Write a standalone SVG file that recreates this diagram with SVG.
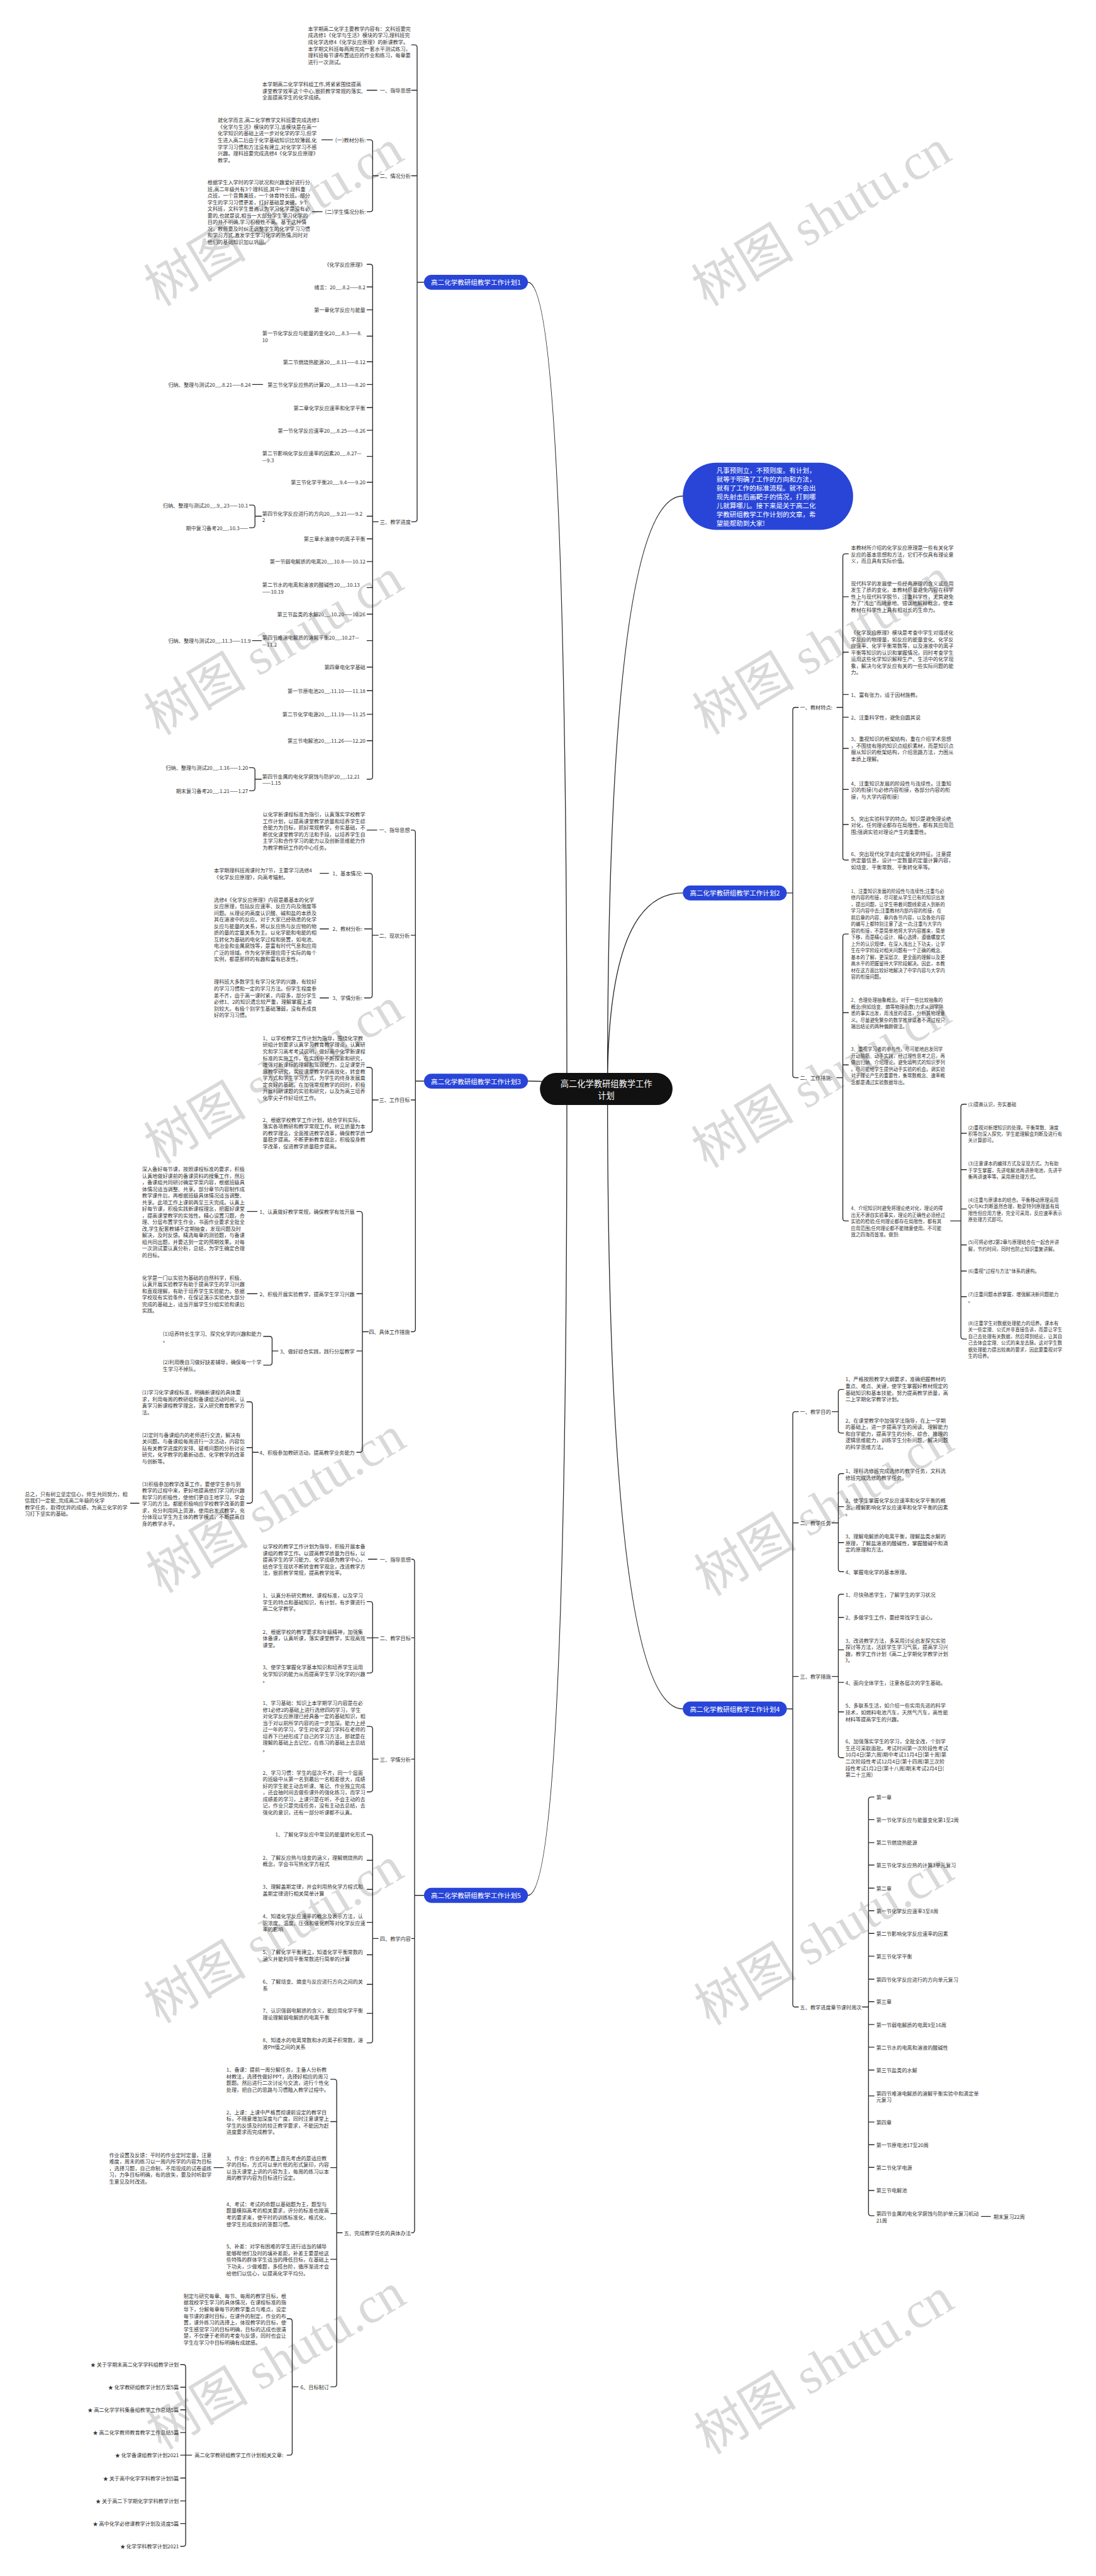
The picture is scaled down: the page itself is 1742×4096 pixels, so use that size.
<svg xmlns="http://www.w3.org/2000/svg" width="1742" height="4096" viewBox="0 0 1742 4096">
<style>
.t{font-family:"Noto Sans CJK SC","Noto Sans",sans-serif;font-size:12px;fill:#333;dominant-baseline:central}
.s{font-size:11px}
.e{text-anchor:end}
.n{font-family:"Noto Sans CJK SC","Noto Sans",sans-serif;font-size:15.5px;fill:#fff;text-anchor:middle;dominant-baseline:central}
.w{font-family:"Noto Sans CJK SC","Noto Sans",sans-serif;font-size:15.5px;fill:#fff;dominant-baseline:central}
.c{font-family:"Noto Sans CJK SC","Noto Sans",sans-serif;font-size:19.5px;fill:#fff;text-anchor:middle;dominant-baseline:central}
.L{fill:none;stroke:#2b2b2b;stroke-width:2;stroke-linecap:round}
.wm{font-family:"Liberation Serif","Noto Sans CJK SC",serif;font-size:120px;fill:#d9d9d9;text-anchor:middle;dominant-baseline:central}
.bn{fill:#2845d8}
</style>
<rect width="1742" height="4096" fill="#fff"/>
<g transform="scale(0.68)">
<g id="watermarks">
<text class="wm" transform="translate(640,510) rotate(-31)">树图 shutu.cn</text>
<text class="wm" transform="translate(640,1513) rotate(-31)">树图 shutu.cn</text>
<text class="wm" transform="translate(640,2516) rotate(-31)">树图 shutu.cn</text>
<text class="wm" transform="translate(645,3519) rotate(-31)">树图 shutu.cn</text>
<text class="wm" transform="translate(640,4525) rotate(-31)">树图 shutu.cn</text>
<text class="wm" transform="translate(645,5522) rotate(-31)">树图 shutu.cn</text>
<text class="wm" transform="translate(1920,510) rotate(-31)">树图 shutu.cn</text>
<text class="wm" transform="translate(1922,1512) rotate(-31)">树图 shutu.cn</text>
<text class="wm" transform="translate(1920,2525) rotate(-31)">树图 shutu.cn</text>
<text class="wm" transform="translate(1926,3526) rotate(-31)">树图 shutu.cn</text>
<text class="wm" transform="translate(1926,4530) rotate(-31)">树图 shutu.cn</text>
<text class="wm" transform="translate(1926,5533) rotate(-31)">树图 shutu.cn</text>
</g>
<g id="connectors">
<path class="L" d="M1420,2545 Q1420,1160 1596,1160 M1420,2545 Q1420,2088 1596,2088 M1420,2545 Q1420,3996 1596,3996 M1325,2545 Q1325,660 1234,660 M1325,2545 Q1325,2528 1234,2528 M1325,2545 Q1325,4432 1234,4432"/>
<path class="L" d="M962,105 H969 Q975,105 975,111 V1214 Q975,1220 969,1220 H962 M962,211 H975 M962,411 H975 M975,660 H991"/>
<path class="L" d="M858,211 H881"/>
<path class="L" d="M858,327 H865 Q871,327 871,333 V489 Q871,495 865,495 H858 M871,411 H884 M752,327 H777 M730,495 H753"/>
<path class="L" d="M858,618 H865 Q871,618 871,624 V1816 Q871,1822 865,1822 H858 M858,671 H871 M858,724.5 H871 M858,786 H871 M858,846 H871 M858,899 H871 M858,953 H871 M858,1006 H871 M858,1067 H871 M858,1127.6 H871 M858,1207 H871 M871,1220 H884 M858,1260 H871 M858,1313 H871 M858,1374 H871 M858,1436 H871 M858,1498 H871 M858,1560 H871 M858,1615 H871 M858,1670 H871 M858,1732 H871"/>
<path class="L" d="M590,899 H614 M583,1181 H590 Q596,1181 596,1187 V1228 Q596,1234 590,1234 H583 M596,1207 H611 M590,1498 H611 M583,1795 H590 Q596,1795 596,1801 V1843 Q596,1849 590,1849 H583 M596,1822 H611"/>
<path class="L" d="M961,1941 H965 Q971,1941 971,1947 V3108 Q971,3114 965,3114 H961 M961,2187 H971 M961,2572 H971 M971,2528 H991"/>
<path class="L" d="M858,1941 H881"/>
<path class="L" d="M852,2042 H864 Q870,2042 870,2048 V2327.5 Q870,2333.5 864,2333.5 H852 M852,2172 H870 M870,2187 H884 M748,2042 H768 M748,2172 H768 M748,2333.5 H768"/>
<path class="L" d="M857,2496 H864 Q870,2496 870,2502 V2642 Q870,2648 864,2648 H857 M870,2572 H884"/>
<path class="L" d="M834,2833 H841 Q847,2833 847,2839 V3390 Q847,3396 841,3396 H834 M834,3025 H847 M834,3159 H847 M847,3114 H861 M578,2833 H601 M578,3025 H601"/>
<path class="L" d="M616,3125 H630 Q636,3125 636,3131 V3186 Q636,3192 630,3192 H616 M636,3159 H650"/>
<path class="L" d="M577,3278 H584 Q590,3278 590,3284 V3509 Q590,3515 584,3515 H577 M577,3385 H590 M590,3396 H604 M305,3515 H325"/>
<path class="L" d="M962,3646 H963 Q969,3646 969,3652 V5215 Q969,5221 963,5221 H962 M962,3829.5 H969 M962,4113.5 H969 M962,4533 H969 M969,4432 H991"/>
<path class="L" d="M861,3646 H881"/>
<path class="L" d="M858,3745 H865 Q871,3745 871,3751 V3906 Q871,3912 865,3912 H858 M858,3830 H871 M871,3829.5 H884"/>
<path class="L" d="M858,4037 H865 Q871,4037 871,4043 V4184 Q871,4190 865,4190 H858 M871,4113.5 H884"/>
<path class="L" d="M858,4289.5 H865 Q871,4289.5 871,4295.5 V4771 Q871,4777 865,4777 H858 M858,4350 H871 M858,4418 H871 M858,4495 H871 M858,4571 H871 M858,4640 H871 M858,4708 H871 M871,4533 H884"/>
<path class="L" d="M773,4862 H781 Q787,4862 787,4868 V5575 Q787,5581 781,5581 H773 M773,4961 H787 M773,5068.5 H787 M773,5176 H787 M773,5283 H787 M787,5221 H800 M500,5068.5 H522"/>
<path class="L" d="M671,5422 H677 Q683,5422 683,5428 V5735 Q683,5741 677,5741 H671 M683,5581 H697"/>
<path class="L" d="M422,5529 H428 Q434,5529 434,5535 V5948 Q434,5954 428,5954 H422 M422,5582 H434 M422,5635 H434 M422,5688 H434 M422,5741 H448 M422,5794.5 H434 M422,5848 H434 M422,5901 H434"/>
<path class="L" d="M1866,1654 H1859 Q1853,1654 1853,1660 V2514 Q1853,2520 1859,2520 H1866 M1839,2088 H1853"/>
<path class="L" d="M1983,1295 H1976 Q1970,1295 1970,1301 V2005 Q1970,2011 1976,2011 H1983 M1970,1395.5 H1983 M1970,1525 H1983 M1970,1624 H1983 M1970,1677 H1983 M1970,1750 H1983 M1970,1846 H1983 M1970,1928 H1983 M1956,1654 H1970"/>
<path class="L" d="M1983,2184 H1976 Q1970,2184 1970,2190 V2849 Q1970,2855 1976,2855 H1983 M1970,2368 H1983 M1970,2490 H1983 M1956,2520 H1970"/>
<path class="L" d="M2259,2582 H2252 Q2246,2582 2246,2588 V3125 Q2246,3131 2252,3131 H2259 M2246,2650 H2259 M2246,2735 H2259 M2246,2827 H2259 M2246,2911 H2259 M2246,2972 H2259 M2246,3032 H2259 M2222,2855 H2246"/>
<path class="L" d="M1866,3301 H1859 Q1853,3301 1853,3307 V4687 Q1853,4693 1859,4693 H1866 M1853,3561 H1866 M1853,3920 H1866 M1839,3996 H1853"/>
<path class="L" d="M1972,3249 H1965.5 Q1959.5,3249 1959.5,3255 V3345 Q1959.5,3351 1965.5,3351 H1972 M1945,3301 H1959.5"/>
<path class="L" d="M1972,3446 H1965.5 Q1959.5,3446 1959.5,3452 V3669 Q1959.5,3675 1965.5,3675 H1972 M1959.5,3523 H1972 M1959.5,3607 H1972 M1945,3561 H1959.5"/>
<path class="L" d="M1972,3728 H1965.5 Q1959.5,3728 1959.5,3734 V4104 Q1959.5,4110 1965.5,4110 H1972 M1959.5,3782 H1972 M1959.5,3858 H1972 M1959.5,3934 H1972 M1959.5,4003 H1972 M1945,3920 H1959.5"/>
<path class="L" d="M2043,4202 H2036 Q2030,4202 2030,4208 V5175 Q2030,5181 2036,5181 H2043 M2030,4255 H2043 M2030,4308.6 H2043 M2030,4361 H2043 M2030,4415 H2043 M2030,4468 H2043 M2030,4521 H2043 M2030,4574 H2043 M2030,4628 H2043 M2030,4680.5 H2043 M2030,4734 H2043 M2030,4787 H2043 M2030,4840.5 H2043 M2030,4901 H2043 M2030,4962 H2043 M2030,5015 H2043 M2030,5068 H2043 M2030,5122 H2043 M2016,4693 H2030 M2294,5183 H2315"/>
</g>
<g id="center">
<rect x="1262" y="2509" width="310" height="75" rx="37.5" fill="#111"/>
<text class="c" x="1417" y="2533">高二化学教研组教学工作</text>
<text class="c" x="1417" y="2561">计划</text>
</g>
<g id="intro">
<rect x="1596" y="1082" width="398" height="157" rx="78" fill="#2845d8"/>
<text class="w" x="1674.5" y="1099"><tspan x="1674.5" dy="0">凡事预则立，不预则废。有计划，</tspan><tspan x="1674.5" dy="20.5">就等于明确了工作的方向和方法，</tspan><tspan x="1674.5" dy="20.5">就有了工作的标准流程。就不会出</tspan><tspan x="1674.5" dy="20.5">现先射击后画靶子的情况，打到哪</tspan><tspan x="1674.5" dy="20.5">儿就算哪儿。接下来是关于高二化</tspan><tspan x="1674.5" dy="20.5">学教研组教学工作计划的文章，希</tspan><tspan x="1674.5" dy="20.5">望能帮助到大家!</tspan></text>
</g>
<g id="plan1">
<rect class="bn" x="991" y="642.5" width="243" height="35" rx="17.5"/>
<text class="n" x="1112.5" y="660">高二化学教研组教学工作计划1</text>
<text class="t" x="720" y="66"><tspan x="720" dy="0">本学期高二化学主要教学内容有：文科班要完</tspan><tspan x="720" dy="15.5">成选修1《化学与生活》模块的学习,理科班完</tspan><tspan x="720" dy="15.5">成化学选修4《化学反应原理》的新课教学。</tspan><tspan x="720" dy="15.5">本学期文科班每两周完成一套水平测试练习，</tspan><tspan x="720" dy="15.5">理科班每节课布置适应的作业和练习，每章要</tspan><tspan x="720" dy="15.5">进行一次测试。</tspan></text>
<text class="t e" x="960" y="211">一、指导思想</text>
<text class="t" x="613" y="196"><tspan x="613" dy="0">本学期高二化学学科组工作,将紧紧围绕提高</tspan><tspan x="613" dy="15.5">课堂教学效率这个中心,狠抓教学常规的落实,</tspan><tspan x="613" dy="15.5">全面提高学生的化学成绩。</tspan></text>
<text class="t e" x="960" y="411">二、情况分析</text>
<text class="t e" x="855" y="327">(一)教材分析:</text>
<text class="t" x="509" y="280"><tspan x="509" dy="0">就化学而言,高二化学教学文科班要完成选修1</tspan><tspan x="509" dy="15.5">《化学与生活》模块的学习,该模块是在高一</tspan><tspan x="509" dy="15.5">化学知识的基础上进一步对化学的学习,但学</tspan><tspan x="509" dy="15.5">生进入高二后由于化学基础知识比较薄弱,化</tspan><tspan x="509" dy="15.5">学学习习惯和方法没有建立,对化学学习不感</tspan><tspan x="509" dy="15.5">兴趣。理科班要完成选修4《化学反应原理》</tspan><tspan x="509" dy="15.5">教学。</tspan></text>
<text class="t e" x="855" y="495">(二)学生情况分析:</text>
<text class="t" x="485" y="425"><tspan x="485" dy="0">根据学生入学时的学习状况和兴趣爱好进行分</tspan><tspan x="485" dy="15.5">班,高二年级共有3个理科班,其中一个理科重</tspan><tspan x="485" dy="15.5">点班，一个音舞美班，一个体育特长班。部分</tspan><tspan x="485" dy="15.5">学生的学习习惯更差，打好基础是关键。9个</tspan><tspan x="485" dy="15.5">文科班，文科学生普遍认为学习化学是没有必</tspan><tspan x="485" dy="15.5">要的,也就是说,相当一大部分学生学习化学的</tspan><tspan x="485" dy="15.5">目的并不明确,学习积极性不高。基于这种情</tspan><tspan x="485" dy="15.5">况，教师要及时纠正调整学生的化学学习习惯</tspan><tspan x="485" dy="15.5">和学习方式,激发学生学习化学的热情,同时对</tspan><tspan x="485" dy="15.5">他们的基础知识加以巩固。</tspan></text>
<text class="t e" x="960" y="1220">三、教学进度</text>
<text class="t e" x="854" y="618">《化学反应原理》</text>
<text class="t e" x="854" y="671">绪言：20__.8.2——8.2</text>
<text class="t e" x="854" y="724.5">第一章化学反应与能量</text>
<text class="t" x="613" y="778"><tspan x="613" dy="0">第一节化学反应与能量的变化20__.8.3——8.</tspan><tspan x="613" dy="15.5">10</tspan></text>
<text class="t e" x="854" y="846">第二节燃烧热能源20__.8.11——8.12</text>
<text class="t e" x="854" y="899">第三节化学反应热的计算20__.8.13——8.20</text>
<text class="t e" x="586" y="899">归纳、整理与测试20__.8.21——8.24</text>
<text class="t e" x="854" y="953">第二章化学反应速率和化学平衡</text>
<text class="t e" x="854" y="1006">第一节化学反应速率20__.8.25——8.26</text>
<text class="t" x="613" y="1059"><tspan x="613" dy="0">第二节影响化学反应速率的因素20__.8.27—</tspan><tspan x="613" dy="15.5">—9.3</tspan></text>
<text class="t e" x="854" y="1127.6">第三节化学平衡20__.9.4——9.20</text>
<text class="t" x="613" y="1199.5"><tspan x="613" dy="0">第四节化学反应进行的方向20__.9.21——9.2</tspan><tspan x="613" dy="15.5">2</tspan></text>
<text class="t e" x="580" y="1181">归纳、整理与测试20__.9_.23——10.1</text>
<text class="t e" x="580" y="1234">期中复习备考20__.10.3——</text>
<text class="t e" x="854" y="1260">第三章水溶液中的离子平衡</text>
<text class="t e" x="854" y="1313">第一节弱电解质的电离20__.10.8——10.12</text>
<text class="t" x="613" y="1366.3"><tspan x="613" dy="0">第二节水的电离和溶液的酸碱性20__.10.13</tspan><tspan x="613" dy="15.5">——10.19</tspan></text>
<text class="t e" x="854" y="1436">第三节盐类的水解20__.10.20——10.26</text>
<text class="t" x="613" y="1490.3"><tspan x="613" dy="0">第四节难溶电解质的溶解平衡20__.10.27—</tspan><tspan x="613" dy="15.5">—11.2</tspan></text>
<text class="t e" x="586" y="1498">归纳、整理与测试20__.11.3——11.9</text>
<text class="t e" x="854" y="1560">第四章电化学基础</text>
<text class="t e" x="854" y="1615">第一节原电池20__.11.10——11.18</text>
<text class="t e" x="854" y="1670">第二节化学电源20__.11.19——11.25</text>
<text class="t e" x="854" y="1732">第三节电解池20__.11.26——12.20</text>
<text class="t" x="613" y="1814.3"><tspan x="613" dy="0">第四节金属的电化学腐蚀与防护20__.12.21</tspan><tspan x="613" dy="15.5">——1.15</tspan></text>
<text class="t e" x="580" y="1795">归纳、整理与测试20__.1.16——1.20</text>
<text class="t e" x="580" y="1849">期末复习备考20__.1.21——1.27</text>
</g>
<g id="plan2">
<rect class="bn" x="1596" y="2070.5" width="243" height="35" rx="17.5"/>
<text class="n" x="1717.5" y="2088">高二化学教研组教学工作计划2</text>
<text class="t" x="1870" y="1654">一、教材特点:</text>
<text class="t" x="1989" y="1279.5"><tspan x="1989" dy="0">本教材所介绍的化学反应原理是一些有关化学</tspan><tspan x="1989" dy="15.5">反应的基本思想和方法，它们不仅具有理论意</tspan><tspan x="1989" dy="15.5">义，而且具有实际价值。</tspan></text>
<text class="t" x="1989" y="1363"><tspan x="1989" dy="0">现代科学的发展使一些经典原理的含义或应用</tspan><tspan x="1989" dy="15.5">发生了质的变化，本教材尽量避免内容在科学</tspan><tspan x="1989" dy="15.5">性上与现代科学脱节，注重科学性，尤其避免</tspan><tspan x="1989" dy="15.5">为了"浅出"而随意地、错误地解释概念，使本</tspan><tspan x="1989" dy="15.5">教材在科学性上具有相对长的生命力。</tspan></text>
<text class="t" x="1989" y="1478"><tspan x="1989" dy="0">《化学反应原理》模块是考查中学生对描述化</tspan><tspan x="1989" dy="15.5">学反应的物理量，如反应的能量变化、化学反</tspan><tspan x="1989" dy="15.5">应速率、化学平衡常数等，以及溶液中的离子</tspan><tspan x="1989" dy="15.5">平衡等知识的认识和掌握情况，同时考查学生</tspan><tspan x="1989" dy="15.5">运用这些化学知识解释生产、生活中的化学现</tspan><tspan x="1989" dy="15.5">象，解决与化学反应有关的一些实际问题的能</tspan><tspan x="1989" dy="15.5">力。</tspan></text>
<text class="t" x="1989" y="1624">1、富有张力，适于因材施教。</text>
<text class="t" x="1989" y="1677">2、注重科学性，避免自圆其说</text>
<text class="t" x="1989" y="1727"><tspan x="1989" dy="0">3、重视知识的框架结构，重在介绍学术思想</tspan><tspan x="1989" dy="15.5">，不围绕有限的知识点组织素材，而是知识点</tspan><tspan x="1989" dy="15.5">服从知识的框架结构，介绍思路方法，力图从</tspan><tspan x="1989" dy="15.5">本质上理解。</tspan></text>
<text class="t" x="1989" y="1830.5"><tspan x="1989" dy="0">4、注重知识发展的阶段性与连续性。注重知</tspan><tspan x="1989" dy="15.5">识的衔接(与必修内容衔接，各部分内容的衔</tspan><tspan x="1989" dy="15.5">接，与大学内容衔接)</tspan></text>
<text class="t" x="1989" y="1912.5"><tspan x="1989" dy="0">5、突出实验科学的特点。知识是避免理论绝</tspan><tspan x="1989" dy="15.5">对化，任何理论都存在局限性，都有其应用范</tspan><tspan x="1989" dy="15.5">围;强调实验对理论产生的重要性。</tspan></text>
<text class="t" x="1989" y="1995.5"><tspan x="1989" dy="0">6、突出现代化学走向定量化的特征。注意提</tspan><tspan x="1989" dy="15.5">供定量信息，设计一定数量的定量计算内容，</tspan><tspan x="1989" dy="15.5">如焓变、平衡常数、平衡转化率等。</tspan></text>
<text class="t" x="1870" y="2520">二、工作措施:</text>
<text class="t s" x="1989" y="2082.3"><tspan x="1989" dy="0">1、注重知识发展的阶段性与连续性;注重与必</tspan><tspan x="1989" dy="15.4">修内容的衔接，尽可能从学生已有的知识出发</tspan><tspan x="1989" dy="15.4">，提出问题，让学生带着问题线索进入到新的</tspan><tspan x="1989" dy="15.4">学习内容中去;注重教材内部内容的衔接，在</tspan><tspan x="1989" dy="15.4">前后章的内容、章内各节内容，以及各处内容</tspan><tspan x="1989" dy="15.4">的编写上都特别注意了这一点;注重与大学内</tspan><tspan x="1989" dy="15.4">容的衔接，不是简单地将大学内容搬来，简单</tspan><tspan x="1989" dy="15.4">下移，而是精心设计、精心选择，遵循螺旋式</tspan><tspan x="1989" dy="15.4">上升的认识规律，在深入浅出上下功夫，让学</tspan><tspan x="1989" dy="15.4">生在中学阶段对相关问题有一个正确的概念、</tspan><tspan x="1989" dy="15.4">基本的了解，更深层次、更全面的理解以及更</tspan><tspan x="1989" dy="15.4">高水平的把握留待大学阶段解决。因此，本教</tspan><tspan x="1989" dy="15.4">材在这方面比较好地解决了中学内容与大学内</tspan><tspan x="1989" dy="15.4">容的衔接问题。</tspan></text>
<text class="t s" x="1989" y="2337"><tspan x="1989" dy="0">2、合理处理抽象概念。对于一些比较抽象的</tspan><tspan x="1989" dy="15.4">概念(例如焓变、熵等物理函数)力求从同学熟</tspan><tspan x="1989" dy="15.4">悉的事实出发，用浅显的语言，分析其物理意</tspan><tspan x="1989" dy="15.4">义。尽量避免繁杂的数学推导或者不讲过程只</tspan><tspan x="1989" dy="15.4">端出结论的两种偏颇做法。</tspan></text>
<text class="t s" x="1989" y="2452"><tspan x="1989" dy="0">3、重视学习者的参与性。尽可能地启发同学</tspan><tspan x="1989" dy="15.4">开动脑筋、动手实践，经过理性思考之后，再</tspan><tspan x="1989" dy="15.4">做出归纳、介绍理论。避免填鸭式的知识罗列</tspan><tspan x="1989" dy="15.4">。尽可能给学生提供动手实验的机会。调实验</tspan><tspan x="1989" dy="15.4">对于理论产生的重要性，衡常数概念、速率概</tspan><tspan x="1989" dy="15.4">念都是通过实验数据导出。</tspan></text>
<text class="t s" x="1989" y="2824"><tspan x="1989" dy="0">4、介绍知识时避免将理论绝对化，理论的得</tspan><tspan x="1989" dy="15.4">出无不源自实验事实，理论的正确性必须经过</tspan><tspan x="1989" dy="15.4">实验的检验;任何理论都存在局限性，都有其</tspan><tspan x="1989" dy="15.4">应用范围;任何理论都不能随意使用，不可能</tspan><tspan x="1989" dy="15.4">放之四海而皆准。做到:</tspan></text>
<text class="t s" x="2263" y="2582">(1)提高认识，夯实基础</text>
<text class="t s" x="2263" y="2634.6"><tspan x="2263" dy="0">(2)重视对新增知识的处理。平衡常数、溶度</tspan><tspan x="2263" dy="15.4">积等勿深入探究，学生能理解会判断及进行有</tspan><tspan x="2263" dy="15.4">关计算即可。</tspan></text>
<text class="t s" x="2263" y="2719.6"><tspan x="2263" dy="0">(3)注意课本的编排方式及呈现方式。为有助</tspan><tspan x="2263" dy="15.4">于学生掌握，先讲电解池再讲原电池，先讲平</tspan><tspan x="2263" dy="15.4">衡再讲速率等。采用原处理方式。</tspan></text>
<text class="t s" x="2263" y="2803.9"><tspan x="2263" dy="0">(4)注重与原课本的结合。平衡移动原理运用</tspan><tspan x="2263" dy="15.4">Qc与Kc判断虽然合理，勒夏特列原理虽有局</tspan><tspan x="2263" dy="15.4">限性但应用方便，完全可采用，反应速率表示</tspan><tspan x="2263" dy="15.4">原处理方式即可。</tspan></text>
<text class="t s" x="2263" y="2903.3"><tspan x="2263" dy="0">(5)可将必修2第2章与原理结合在一起合并讲</tspan><tspan x="2263" dy="15.4">解，节约时间，同时也防止知识重复讲解。</tspan></text>
<text class="t s" x="2263" y="2972">(6)重视"过程与方法"体系的建构。</text>
<text class="t s" x="2263" y="3024.3"><tspan x="2263" dy="0">(7)注重问题本质掌握，增强解决新问题能力</tspan><tspan x="2263" dy="15.4">。</tspan></text>
<text class="t s" x="2263" y="3092.5"><tspan x="2263" dy="0">(8)注重学生对数据处理能力的培养。课本有</tspan><tspan x="2263" dy="15.4">关一些定理、公式并非直接告诉，而是让学生</tspan><tspan x="2263" dy="15.4">自己去处理有关数据，然后得到结论，让其自</tspan><tspan x="2263" dy="15.4">己去体会定理、公式的来龙去脉。这对学生数</tspan><tspan x="2263" dy="15.4">据处理能力提出较高的要求，因此要重视对学</tspan><tspan x="2263" dy="15.4">生的培养。</tspan></text>
</g>
<g id="plan3">
<rect class="bn" x="991" y="2510.5" width="243" height="35" rx="17.5"/>
<text class="n" x="1112.5" y="2528">高二化学教研组教学工作计划3</text>
<text class="t e" x="958" y="1941">一、指导思想</text>
<text class="t" x="614" y="1903"><tspan x="614" dy="0">以化学新课程标准为指引，认真落实学校教学</tspan><tspan x="614" dy="15.5">工作计划，以提高课堂教学质量和培养学生综</tspan><tspan x="614" dy="15.5">合能力为目标，抓好常规教学，夯实基础，不</tspan><tspan x="614" dy="15.5">断优化课堂教学的方法和手段，以培养学生自</tspan><tspan x="614" dy="15.5">主学习和合作学习的能力以及创新思维能力作</tspan><tspan x="614" dy="15.5">为教学教研工作的中心任务。</tspan></text>
<text class="t e" x="958" y="2187">二、现状分析</text>
<text class="t e" x="847" y="2042">1、基本情况:</text>
<text class="t" x="500" y="2034.3"><tspan x="500" dy="0">本学期理科班周课时为7节，主要学习选修4</tspan><tspan x="500" dy="15.5">《化学反应原理》，向高考辐射。</tspan></text>
<text class="t e" x="847" y="2172">2、教材分析:</text>
<text class="t" x="500" y="2102.3"><tspan x="500" dy="0">选修4《化学反应原理》内容是最基本的化学</tspan><tspan x="500" dy="15.5">反应原理，包括反应速率、反应方向及限度等</tspan><tspan x="500" dy="15.5">问题。从理论的高度认识酸、碱和盐的本质及</tspan><tspan x="500" dy="15.5">其在溶液中的反应。对于大家已经熟悉的化学</tspan><tspan x="500" dy="15.5">反应与能量的关系，将以反应热与反应物的物</tspan><tspan x="500" dy="15.5">质的量的定量关系为主。以化学能和电能的相</tspan><tspan x="500" dy="15.5">互转化为基础的电化学过程和装置，如电池、</tspan><tspan x="500" dy="15.5">电冶金和金属腐蚀等，是富有时代气息和应用</tspan><tspan x="500" dy="15.5">广泛的领域。作为化学原理应用于实际的每个</tspan><tspan x="500" dy="15.5">实例，都是那样的有趣和富有启发性。</tspan></text>
<text class="t e" x="847" y="2333.5">3、学情分析:</text>
<text class="t" x="500" y="2294.8"><tspan x="500" dy="0">理科班大多数学生有学习化学的兴趣，有较好</tspan><tspan x="500" dy="15.5">的学习习惯和一定的学习方法。但学生程度参</tspan><tspan x="500" dy="15.5">差不齐，由于高一课时紧，内容多，部分学生</tspan><tspan x="500" dy="15.5">必修1、2的知识遗忘较严重，理解掌握上差</tspan><tspan x="500" dy="15.5">别较大。有极个别学生基础薄弱，没有养成良</tspan><tspan x="500" dy="15.5">好的学习习惯。</tspan></text>
<text class="t e" x="958" y="2572">三、工作目标</text>
<text class="t" x="614" y="2426.3"><tspan x="614" dy="0">1、以学校教学工作计划为指导，围绕化学教</tspan><tspan x="614" dy="15.5">研组计划要求认真学习教育教学理论，认真研</tspan><tspan x="614" dy="15.5">究和学习高考考试说明，做好高中化学新课程</tspan><tspan x="614" dy="15.5">标准的实施工作，在实践中不断探索和研究，</tspan><tspan x="614" dy="15.5">增强对新课标的理解和驾驭能力，立足课堂开</tspan><tspan x="614" dy="15.5">展教学研究，实现课堂教学的高效化，转变教</tspan><tspan x="614" dy="15.5">学方式和学生学习方式，为学生的终身发展奠</tspan><tspan x="614" dy="15.5">定良好的基础。在加强常规教学的同时，积极</tspan><tspan x="614" dy="15.5">开展科研课题的实验和研究，以及为高三培养</tspan><tspan x="614" dy="15.5">化学尖子作好培优工作。</tspan></text>
<text class="t" x="614" y="2617"><tspan x="614" dy="0">2、根据学校教学工作计划，结合学科实际，</tspan><tspan x="614" dy="15.5">落实各项教研和教学常规工作。树立质量为本</tspan><tspan x="614" dy="15.5">的教学理念，全面推进教学改革，确保教学质</tspan><tspan x="614" dy="15.5">量稳步提高。不断更新教育观念，积极投身教</tspan><tspan x="614" dy="15.5">学改革，促进教学质量稳步提高。</tspan></text>
<text class="t e" x="958" y="3114">四、具体工作措施</text>
<text class="t e" x="829" y="2833">1、认真做好教学常规，确保教学有效开展</text>
<text class="t" x="332" y="2732.3"><tspan x="332" dy="0">深入备好每节课，按照课程标准的要求，积极</tspan><tspan x="332" dy="15.5">认真地做好课前的备课资料的搜集工作，然后</tspan><tspan x="332" dy="15.5">，备课组共同研讨确定学案内容，根据班级具</tspan><tspan x="332" dy="15.5">体情况适当调整、共享。部分章节内容制作成</tspan><tspan x="332" dy="15.5">教学课件后，再根据班级具体情况适当调整、</tspan><tspan x="332" dy="15.5">共享。此项工作上课前两至三天完成。认真上</tspan><tspan x="332" dy="15.5">好每节课，积极实践新课程理念，把握好课堂</tspan><tspan x="332" dy="15.5">，提高课堂教学的实效性。精心设置习题，合</tspan><tspan x="332" dy="15.5">理、分层布置学生作业，书面作业要求全批全</tspan><tspan x="332" dy="15.5">改,学生配套教辅不定期抽查，发现问题及时</tspan><tspan x="332" dy="15.5">解决，及时反馈。精选每章的测验题，与备课</tspan><tspan x="332" dy="15.5">组共同出题，并要达到一定的预期效果。对每</tspan><tspan x="332" dy="15.5">一次测试要认真分析，总结，为学生确定合理</tspan><tspan x="332" dy="15.5">的目标。</tspan></text>
<text class="t e" x="829" y="3025">2、积极开展实验教学，提高学生学习兴趣</text>
<text class="t" x="332" y="2986.3"><tspan x="332" dy="0">化学是一门以实验为基础的自然科学，积极、</tspan><tspan x="332" dy="15.5">认真开展实验教学有助于提高学生的学习兴趣</tspan><tspan x="332" dy="15.5">和直观理解，有助于培养学生实验能力。依据</tspan><tspan x="332" dy="15.5">学校现有实验条件，在保证演示实验绝大部分</tspan><tspan x="332" dy="15.5">完成的基础上，适当开展学生分组实验和课后</tspan><tspan x="332" dy="15.5">实践。</tspan></text>
<text class="t e" x="829" y="3159">3、做好综合实践，践行分层教学</text>
<text class="t" x="380.5" y="3117.3"><tspan x="380.5" dy="0">(1)培养特长生学习、探究化学的兴趣和能力</tspan><tspan x="380.5" dy="15.5">。</tspan></text>
<text class="t" x="380.5" y="3184.3"><tspan x="380.5" dy="0">(2)利用晚自习做好缺差辅导，确保每一个学</tspan><tspan x="380.5" dy="15.5">生学习不掉队。</tspan></text>
<text class="t e" x="829" y="3396">4、积极参加教研活动，提高教学业务能力</text>
<text class="t" x="332" y="3254.8"><tspan x="332" dy="0">(1)学习化学课程标准，明确新课程的具体要</tspan><tspan x="332" dy="15.5">求，利用每周的教研组和备课组活动时间，认</tspan><tspan x="332" dy="15.5">真学习新课程教学理念，深入研究教育教学方</tspan><tspan x="332" dy="15.5">法。</tspan></text>
<text class="t" x="332" y="3354"><tspan x="332" dy="0">(2)定时与备课组内的老师进行交流，解决有</tspan><tspan x="332" dy="15.5">关问题。与备课组每周进行一次活动，内容包</tspan><tspan x="332" dy="15.5">括有关教学进度的安排、疑难问题的分析讨论</tspan><tspan x="332" dy="15.5">研究，化学教学的最新动态、化学教学的改革</tspan><tspan x="332" dy="15.5">与创新等。</tspan></text>
<text class="t" x="332" y="3468.5"><tspan x="332" dy="0">(3)积极参加教学改革工作，要使学生参与到</tspan><tspan x="332" dy="15.5">教学的过程中来，更好地提高他们学习的兴趣</tspan><tspan x="332" dy="15.5">和学习的积极性，使他们更自主地学习，学会</tspan><tspan x="332" dy="15.5">学习的方法。都能积极响应学校教学改革的要</tspan><tspan x="332" dy="15.5">求，充分利用网上资源，使用启发式教学，充</tspan><tspan x="332" dy="15.5">分体现以学生为主体的教学模式，不断提高自</tspan><tspan x="332" dy="15.5">身的教学水平。</tspan></text>
<text class="t" x="58" y="3492"><tspan x="58" dy="0">总之，只有树立坚定信心，师生共同努力，相</tspan><tspan x="58" dy="15.5">信我们一定能_完成高二年级的化学</tspan><tspan x="58" dy="15.5">教学任务，取得优异的成绩，为高三化学的学</tspan><tspan x="58" dy="15.5">习打下坚实的基础。</tspan></text>
</g>
<g id="plan4">
<rect class="bn" x="1596" y="3978.5" width="243" height="35" rx="17.5"/>
<text class="n" x="1717.5" y="3996">高二化学教研组教学工作计划4</text>
<text class="t" x="1870" y="3301">一、教学目的</text>
<text class="t" x="1976" y="3224"><tspan x="1976" dy="0">1、严格按照教学大纲要求，准确把握教材的</tspan><tspan x="1976" dy="15.6">重点、难点、关键，使学生掌握好教材规定的</tspan><tspan x="1976" dy="15.6">基础知识和基本技能，努力提高教学质量，高</tspan><tspan x="1976" dy="15.6">二上学期化学教学计划。</tspan></text>
<text class="t" x="1976" y="3320"><tspan x="1976" dy="0">2、在课堂教学中加强学法指导，在上一学期</tspan><tspan x="1976" dy="15.6">的基础上，进一步提高学生的阅读、理解能力</tspan><tspan x="1976" dy="15.6">和自学能力，提高学生的分析、综合、推理的</tspan><tspan x="1976" dy="15.6">逻辑思维能力，训练学生分析问题、解决问题</tspan><tspan x="1976" dy="15.6">的科学思维方法。</tspan></text>
<text class="t" x="1870" y="3561">二、教学任务</text>
<text class="t" x="1976" y="3438.5"><tspan x="1976" dy="0">1、理科选修班完成选修的教学任务，文科选</tspan><tspan x="1976" dy="15.6">修班完成选修的教学任务。</tspan></text>
<text class="t" x="1976" y="3507.5"><tspan x="1976" dy="0">2、使学生掌握化学反应速率和化学平衡的概</tspan><tspan x="1976" dy="15.6">念，理解影响化学反应速率和化学平衡的因素</tspan><tspan x="1976" dy="15.6">。</tspan></text>
<text class="t" x="1976" y="3591.5"><tspan x="1976" dy="0">3、理解电解质的电离平衡，理解盐类水解的</tspan><tspan x="1976" dy="15.6">原理，了解盐溶液的酸碱性，掌握酸碱中和滴</tspan><tspan x="1976" dy="15.6">定的原理和方法。</tspan></text>
<text class="t" x="1976" y="3675">4、掌握电化学的基本原理。</text>
<text class="t" x="1870" y="3920">三、教学措施</text>
<text class="t" x="1976" y="3728">1、尽快熟悉学生，了解学生的学习状况</text>
<text class="t" x="1976" y="3782">2、多做学生工作，要经常找学生谈心。</text>
<text class="t" x="1976" y="3834.6"><tspan x="1976" dy="0">3、改进教学方法，多采用讨论启发探究实验</tspan><tspan x="1976" dy="15.6">探讨等方法，活跃学生学习气氛，提高学习兴</tspan><tspan x="1976" dy="15.6">趣，教学工作计划《高二上学期化学教学计划</tspan><tspan x="1976" dy="15.6">》。</tspan></text>
<text class="t" x="1976" y="3934">4、面向全体学生，注意各层次的学生基础。</text>
<text class="t" x="1976" y="3987.4"><tspan x="1976" dy="0">5、多联系生活，如介绍一些实用先进的科学</tspan><tspan x="1976" dy="15.6">技术，如燃料电池汽车，天然气汽车，高性能</tspan><tspan x="1976" dy="15.6">材料等提高学生的兴趣。</tspan></text>
<text class="t" x="1976" y="4071"><tspan x="1976" dy="0">6、加强落实学生的学习，全批全改，个别学</tspan><tspan x="1976" dy="15.6">生还可采取面批。考试时间第一次阶段性考试</tspan><tspan x="1976" dy="15.6">10月4日(第六周)期中考试11月4日(第十周)第</tspan><tspan x="1976" dy="15.6">二次阶段性考试12月4日(第十四周)第三次阶</tspan><tspan x="1976" dy="15.6">段性考试1月2日(第十八周)期末考试2月4日(</tspan><tspan x="1976" dy="15.6">第二十三周)</tspan></text>
<text class="t" x="1870" y="4693">五、教学进度章节课时周次</text>
<text class="t" x="2048" y="4202">第一章</text>
<text class="t" x="2048" y="4255">第一节化学反应与能量变化第1至2周</text>
<text class="t" x="2048" y="4308.6">第二节燃烧热能源</text>
<text class="t" x="2048" y="4361">第三节化学反应热的计算3单元复习</text>
<text class="t" x="2048" y="4415">第二章</text>
<text class="t" x="2048" y="4468">第一节化学反应速率3至8周</text>
<text class="t" x="2048" y="4521">第二节影响化学反应速率的因素</text>
<text class="t" x="2048" y="4574">第三节化学平衡</text>
<text class="t" x="2048" y="4628">第四节化学反应进行的方向单元复习</text>
<text class="t" x="2048" y="4680.5">第三章</text>
<text class="t" x="2048" y="4734">第一节弱电解质的电离9至16周</text>
<text class="t" x="2048" y="4787">第二节水的电离和溶液的酸碱性</text>
<text class="t" x="2048" y="4840.5">第三节盐类的水解</text>
<text class="t" x="2048" y="4894"><tspan x="2048" dy="0">第四节难溶电解质的溶解平衡实验中和滴定单</tspan><tspan x="2048" dy="15.5">元复习</tspan></text>
<text class="t" x="2048" y="4962">第四章</text>
<text class="t" x="2048" y="5015">第一节原电池17至20周</text>
<text class="t" x="2048" y="5068">第二节化学电源</text>
<text class="t" x="2048" y="5122">第三节电解池</text>
<text class="t" x="2048" y="5175"><tspan x="2048" dy="0">第四节金属的电化学腐蚀与防护单元复习机动</tspan><tspan x="2048" dy="15.5">21周</tspan></text>
<text class="t" x="2322" y="5183">期末复习22周</text>
</g>
<g id="plan5">
<rect class="bn" x="991" y="4414.5" width="243" height="35" rx="17.5"/>
<text class="n" x="1112.5" y="4432">高二化学教研组教学工作计划5</text>
<text class="t e" x="960" y="3646">一、指导思想</text>
<text class="t" x="614" y="3615"><tspan x="614" dy="0">以学校的教学工作计划为指导，积极开展本备</tspan><tspan x="614" dy="15.5">课组的教学工作。以提高教学质量为目标，以</tspan><tspan x="614" dy="15.5">提高学生的学习能力、化学成绩为教学中心，</tspan><tspan x="614" dy="15.5">结合学生现状不断转变教学观念，改进教学方</tspan><tspan x="614" dy="15.5">法，狠抓教学常规，提高教学效率。</tspan></text>
<text class="t e" x="960" y="3829.5">二、教学目标</text>
<text class="t" x="614" y="3729.5"><tspan x="614" dy="0">1、认真分析研究教材、课程标准，以及学习</tspan><tspan x="614" dy="15.5">学生的特点和基础知识，有计划，有步骤进行</tspan><tspan x="614" dy="15.5">高二化学教学。</tspan></text>
<text class="t" x="614" y="3814.5"><tspan x="614" dy="0">2、根据学校的教学要求和年级精神，加强集</tspan><tspan x="614" dy="15.5">体备课，认真听课，落实课堂教学，实现高效</tspan><tspan x="614" dy="15.5">课堂。</tspan></text>
<text class="t" x="614" y="3897.5"><tspan x="614" dy="0">3、使学生掌握化学基本知识和培养学生运用</tspan><tspan x="614" dy="15.5">化学知识的能力从而提高学生学习化学的兴趣</tspan><tspan x="614" dy="15.5">。</tspan></text>
<text class="t e" x="960" y="4113.5">三、学情分析</text>
<text class="t" x="614" y="3981"><tspan x="614" dy="0">1、学习基础：知识上本学期学习内容是在必</tspan><tspan x="614" dy="15.5">修1必修2的基础上进行选修四的学习，学生</tspan><tspan x="614" dy="15.5">对化学反应原理已经具备一定的基础知识，相</tspan><tspan x="614" dy="15.5">当于对以前所学内容的进一步加深。能力上经</tspan><tspan x="614" dy="15.5">过一年的学习，学生对化学这门学科在老师的</tspan><tspan x="614" dy="15.5">培养下已经形成了自己的学习方法，那就是在</tspan><tspan x="614" dy="15.5">理解的基础上去记忆，在练习的基础上去总结</tspan><tspan x="614" dy="15.5">。</tspan></text>
<text class="t" x="614" y="4143.5"><tspan x="614" dy="0">2、学习习惯：学生的层次不齐，同一个层面</tspan><tspan x="614" dy="15.5">的班级中从第一名到最后一名相差很大，成绩</tspan><tspan x="614" dy="15.5">好的学生能主动去听课、笔记、作业独立完成</tspan><tspan x="614" dy="15.5">，还会抽时间去做些课外的强化练习，而学习</tspan><tspan x="614" dy="15.5">成绩差的学习，上课只是在听，不会主动的去</tspan><tspan x="614" dy="15.5">记，作业只是完成任务，没有主动去总结，去</tspan><tspan x="614" dy="15.5">强化的意识，还有一部分听课都不认真。</tspan></text>
<text class="t e" x="960" y="4533">四、教学内容</text>
<text class="t e" x="854" y="4289.5">1、了解化学反应中常见的能量转化形式</text>
<text class="t" x="614" y="4342.3"><tspan x="614" dy="0">2、了解反应热与焓变的涵义，理解燃烧热的</tspan><tspan x="614" dy="15.5">概念，学会书写热化学方程式</tspan></text>
<text class="t" x="614" y="4410.3"><tspan x="614" dy="0">3、理解盖斯定律，并会利用热化学方程式和</tspan><tspan x="614" dy="15.5">盖斯定律进行相关简单计算</tspan></text>
<text class="t" x="614" y="4479.5"><tspan x="614" dy="0">4、知道化学反应速率的概念及表示方法，认</tspan><tspan x="614" dy="15.5">识浓度、温度、压强和催化剂等对化学反应速</tspan><tspan x="614" dy="15.5">率的影响</tspan></text>
<text class="t" x="614" y="4563.3"><tspan x="614" dy="0">5、了解化学平衡建立，知道化学平衡常数的</tspan><tspan x="614" dy="15.5">涵义并能利用平衡常数进行简单的计算</tspan></text>
<text class="t" x="614" y="4632.3"><tspan x="614" dy="0">6、了解焓变、熵变与反应进行方向之间的关</tspan><tspan x="614" dy="15.5">系</tspan></text>
<text class="t" x="614" y="4700.3"><tspan x="614" dy="0">7、认识强弱电解质的含义，能应用化学平衡</tspan><tspan x="614" dy="15.5">理论理解弱电解质的电离平衡</tspan></text>
<text class="t" x="614" y="4769.3"><tspan x="614" dy="0">8、知道水的电离常数和水的离子积常数，溶</tspan><tspan x="614" dy="15.5">液PH值之间的关系</tspan></text>
<text class="t e" x="960" y="5221">五、完成教学任务的具体办法</text>
<text class="t" x="529" y="4838.8"><tspan x="529" dy="0">1、备课：提前一周分解任务，主备人分析教</tspan><tspan x="529" dy="15.5">材教法，选择性做好PPT，选择好相应的周习</tspan><tspan x="529" dy="15.5">题题。然后进行二次讨论与交流，进行个性化</tspan><tspan x="529" dy="15.5">处理，把自己的思路与习惯融入教学过程中。</tspan></text>
<text class="t" x="529" y="4937.8"><tspan x="529" dy="0">2、上课：上课中严格贯彻课前设定的教学目</tspan><tspan x="529" dy="15.5">标，不随意增加深度与广度，同时注意课堂上</tspan><tspan x="529" dy="15.5">学生的反馈及时的较正教学要求，不能因为赶</tspan><tspan x="529" dy="15.5">进度要求而完成教学。</tspan></text>
<text class="t" x="529" y="5045.3"><tspan x="529" dy="0">3、作业：作业的布置上首先考虑的是适应教</tspan><tspan x="529" dy="15.5">学的目标，方式可以单片纸的形式复印，内容</tspan><tspan x="529" dy="15.5">以当天课堂上讲的内容为主，每周的练习以本</tspan><tspan x="529" dy="15.5">周的教学内容为目标进行设定。</tspan></text>
<text class="t" x="255" y="5037.5"><tspan x="255" dy="0">作业设置及反馈：平时的作业定时定量，注意</tspan><tspan x="255" dy="15.5">难度，周末的练习以一周内所学的内容为目标</tspan><tspan x="255" dy="15.5">，选择习题，自己命制，不用现成的试卷或练</tspan><tspan x="255" dy="15.5">习，力争目标明确，有的放矢，要及时听取学</tspan><tspan x="255" dy="15.5">生意见及时改进。</tspan></text>
<text class="t" x="529" y="5152.8"><tspan x="529" dy="0">4、考试：考试的命题以基础题为主，题型与</tspan><tspan x="529" dy="15.5">题量模拟高考的相关要求，评分的标准也按高</tspan><tspan x="529" dy="15.5">考的要求来，使平时的训练标准化，格式化，</tspan><tspan x="529" dy="15.5">使学生形成良好的答题习惯。</tspan></text>
<text class="t" x="529" y="5252"><tspan x="529" dy="0">5、补差：对学有困难的学生进行适当的辅导</tspan><tspan x="529" dy="15.5">能够帮他们及时的填补差距，补差主要是给这</tspan><tspan x="529" dy="15.5">些特殊的群体学生适当的降低目标，在基础上</tspan><tspan x="529" dy="15.5">下功夫，少做难题，多搭台阶，循序渐进才会</tspan><tspan x="529" dy="15.5">给他们以信心，以提高化学平均分。</tspan></text>
<text class="t e" x="769" y="5581">6、目标制订</text>
<text class="t" x="429" y="5367.5"><tspan x="429" dy="0">制定与研究每章、每节、每周的教学目标，根</tspan><tspan x="429" dy="15.5">据我校学生学习的具体情况，在课程标准的指</tspan><tspan x="429" dy="15.5">导下，分解每章每节的教学重点与难点，设定</tspan><tspan x="429" dy="15.5">每节课的课时目标，在课件的制定，作业的布</tspan><tspan x="429" dy="15.5">置，课外练习的选择上，体现教学的目标，使</tspan><tspan x="429" dy="15.5">学生感觉学习的目标明确，目标的达成也很清</tspan><tspan x="429" dy="15.5">楚，不仅便于老师的考查与反馈，同时也会让</tspan><tspan x="429" dy="15.5">学生在学习中目标明确有成就感。</tspan></text>
<text class="t e" x="662" y="5741">高二化学教研组教学工作计划相关文章:</text>
<text class="t e" x="418" y="5529">★ 关于学期末高二化学学科组教学计划</text>
<text class="t e" x="418" y="5582">★ 化学教研组教学计划方案5篇</text>
<text class="t e" x="418" y="5635">★ 高二化学学科集备组教学工作总结5篇</text>
<text class="t e" x="418" y="5688">★ 高二化学教师教育教学工作总结5篇</text>
<text class="t e" x="418" y="5741">★ 化学备课组教学计划2021</text>
<text class="t e" x="418" y="5794.5">★ 关于高中化学学科教学计划5篇</text>
<text class="t e" x="418" y="5848">★ 关于高二下学期化学学科教学计划</text>
<text class="t e" x="418" y="5901">★ 高中化学必修课教学计划及进度5篇</text>
<text class="t e" x="418" y="5954">★ 化学学科教学计划2021</text>
</g>
</g>
</svg>
